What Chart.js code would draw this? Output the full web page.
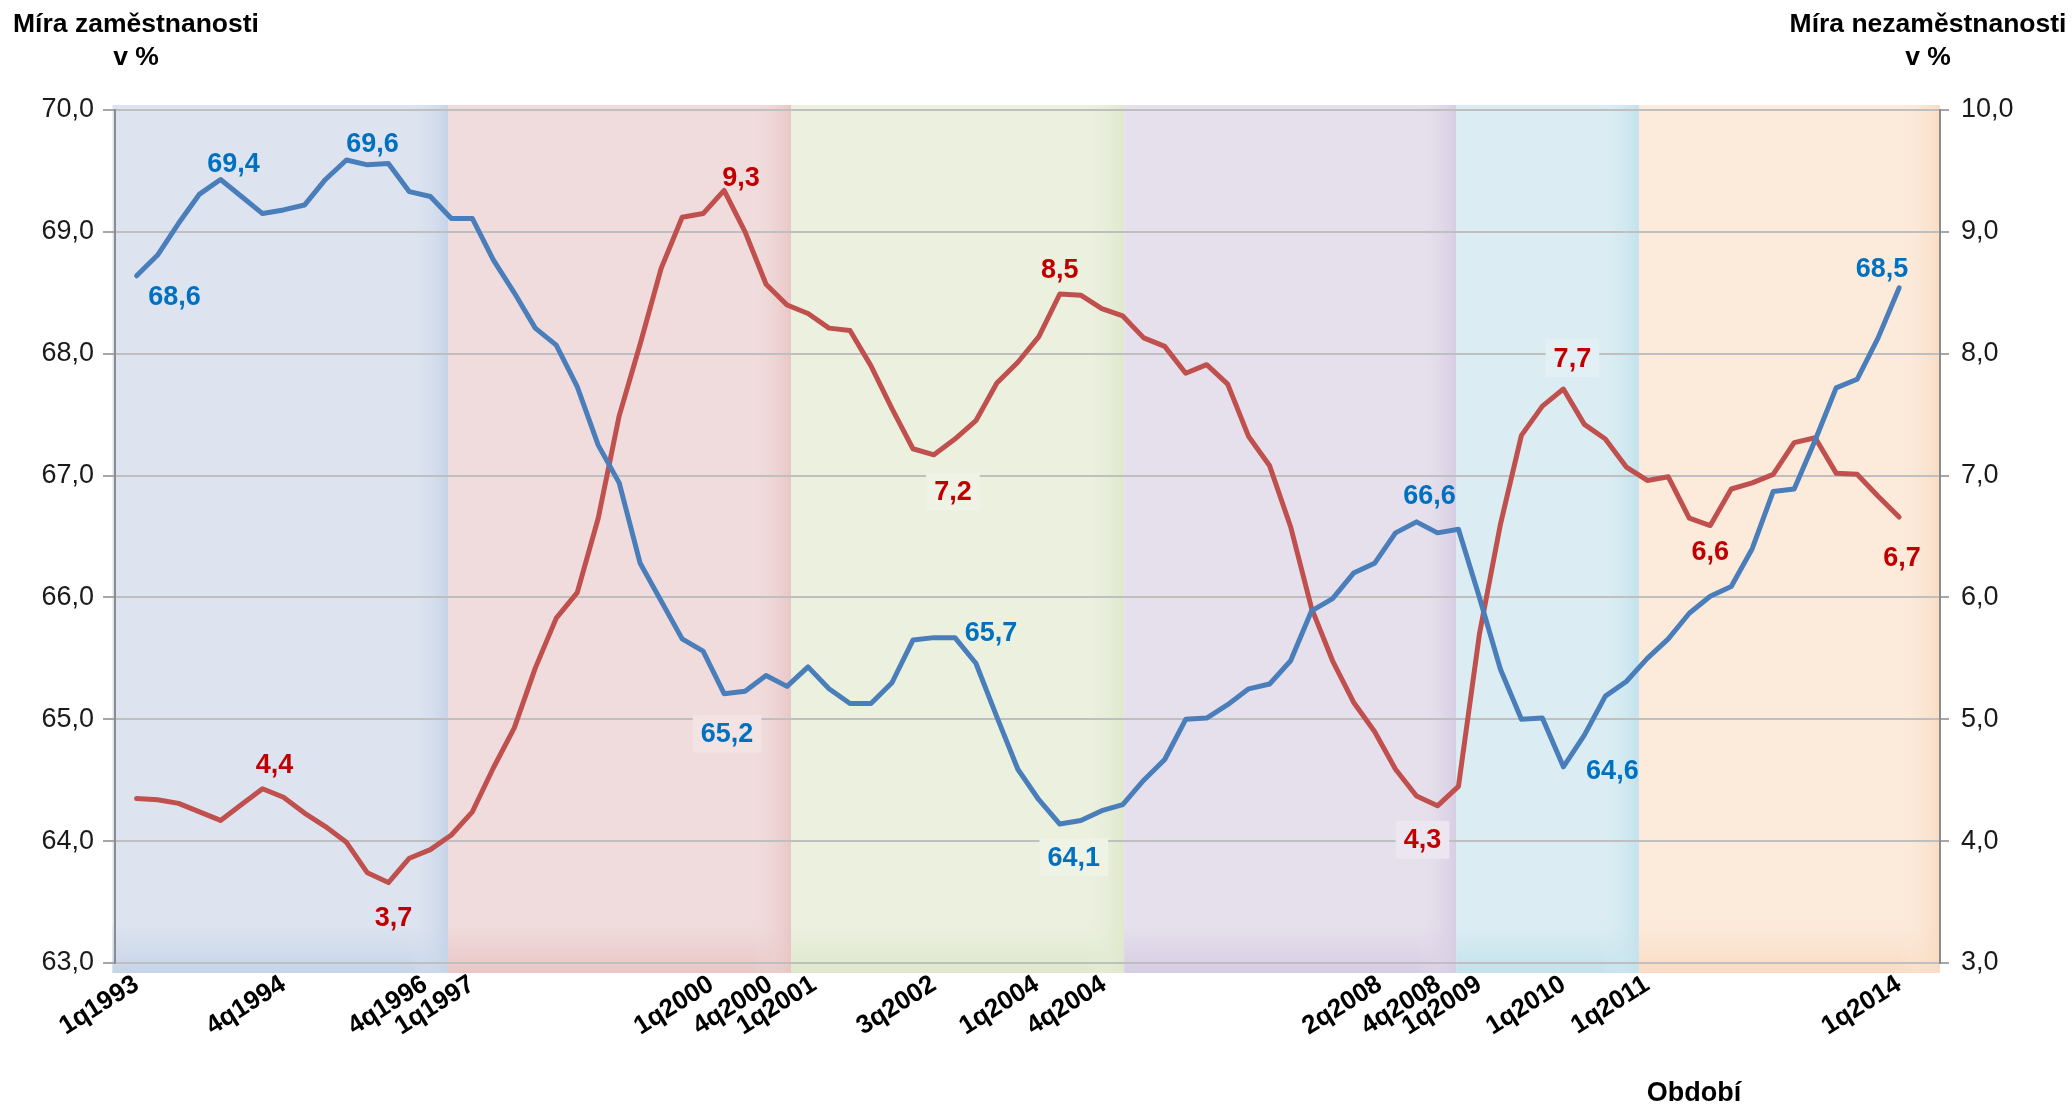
<!DOCTYPE html>
<html>
<head>
<meta charset="utf-8">
<script src="https://cdn.jsdelivr.net/npm/chart.js@4.4.1/dist/chart.umd.min.js"></script>
<style>
  html, body { margin: 0; padding: 0; background: #fff; }
  #wrap { position: relative; width: 2072px; height: 1109px; }
</style>
</head>
<body>
<div id="wrap"><canvas id="chart" width="2072" height="1109"></canvas></div>
<script>
// quarters 1q1993 .. 1q2014
const quarters = [];
for (let y = 1993; y <= 2014; y++) for (let q = 1; q <= 4; q++) if (quarters.length < 85) quarters.push(q + 'q' + y);

const shownTicks = ['1q1993', '4q1994', '4q1996', '1q1997', '1q2000', '4q2000', '1q2001', '3q2002',
  '1q2004', '4q2004', '2q2008', '4q2008', '1q2009', '1q2010', '1q2011', '1q2014'];

// Míra zaměstnanosti (left axis)
const employment = [
  68.64, 68.81, 69.07, 69.31, 69.43, 69.29, 69.15, 69.18, 69.22, 69.43,
  69.59, 69.55, 69.56, 69.33, 69.29, 69.11, 69.11, 68.77, 68.50, 68.21,
  68.07, 67.73, 67.25, 66.94, 66.28, 65.97, 65.66, 65.56, 65.21, 65.23,
  65.36, 65.27, 65.43, 65.25, 65.13, 65.13, 65.30, 65.65, 65.67, 65.67,
  65.46, 65.02, 64.59, 64.34, 64.14, 64.17, 64.25, 64.30, 64.50, 64.67,
  65.00, 65.01, 65.12, 65.25, 65.29, 65.48, 65.89, 65.99, 66.20, 66.28,
  66.53, 66.62, 66.53, 66.56, 66.00, 65.41, 65.00, 65.01, 64.61, 64.87,
  65.19, 65.31, 65.50, 65.66, 65.87, 66.01, 66.09, 66.40, 66.87, 66.89,
  67.29, 67.72, 67.79, 68.13, 68.54
];

// Míra nezaměstnanosti (right axis)
const unemployment = [
  4.35, 4.34, 4.31, 4.24, 4.17, 4.30, 4.43, 4.36, 4.23, 4.12,
  3.99, 3.74, 3.66, 3.86, 3.93, 4.05, 4.24, 4.60, 4.93, 5.42,
  5.83, 6.04, 6.65, 7.49, 8.08, 8.70, 9.12, 9.15, 9.34, 9.00,
  8.57, 8.40, 8.33, 8.21, 8.19, 7.90, 7.55, 7.22, 7.17, 7.30,
  7.45, 7.76, 7.93, 8.14, 8.49, 8.48, 8.37, 8.31, 8.13, 8.06,
  7.84, 7.91, 7.75, 7.32, 7.08, 6.58, 5.91, 5.48, 5.14, 4.90,
  4.59, 4.37, 4.29, 4.45, 5.70, 6.60, 7.33, 7.57, 7.71, 7.42,
  7.30, 7.07, 6.96, 6.99, 6.65, 6.59, 6.89, 6.94, 7.01, 7.27,
  7.31, 7.02, 7.01, 6.83, 6.66
];

// labelled points (quarter index)
const employmentMarks = [0, 4, 10, 28, 39, 44, 61, 68, 84];
const unemploymentMarks = [6, 12, 28, 38, 44, 62, 68, 75, 84];

// period bands, edges on the quarter axis (drawn by hand in the original)
const periodEdges = [-1.15, 14.84, 31.19, 47.07, 62.9, 71.6, 85.95];
const periodColors = [
  ['#dde4f0', '#c6d4e8'], ['#f0dcdc', '#e9c6c6'], ['#ebf0df', '#dfe8cc'],
  ['#e6e0ec', '#d7cde3'], ['#dbedf3', '#c3e2ec'], ['#fceadb', '#f9dcc3']
];

// tick labels in the original sit a little off their quarter (in quarters)
const tickShift = { '4q1996': -1.25, '1q2000': -0.6, '4q2000': -0.8, '1q2001': 0.3, '1q2004': -1.1, '4q2004': -0.9, '2q2008': -1.75, '4q2008': -0.95 };

// label offsets from the point, px, and whether the label has a filled box
const labelStyle = {
  employment: { 0: [38, 21], 4: [13, -16], 10: [26, -16], 28: [3, 40, 1], 39: [36, -5], 44: [14, 33, 1], 61: [13, -26], 68: [49, 4], 84: [-17, -19] },
  unemployment: { 6: [12, -24], 12: [5, 35], 28: [17, -13], 38: [19, 37, 1], 44: [0, -24], 62: [-15, 34, 1], 68: [9, -31, 1], 75: [0, 26], 84: [3, 41] }
};

const FONT = "'Liberation Sans', Arial, sans-serif";
const BLUE = '#4a7ebb', RED = '#c0504d', BLUE_TXT = '#0070c0', RED_TXT = '#c00000';
const fmt = (v) => v.toFixed(1).replace('.', ',');

const bandAt = (v) => {
  for (let i = 0; i < periodColors.length; i++) if (v >= periodEdges[i] && v < periodEdges[i + 1]) return periodColors[i];
  return periodColors[periodColors.length - 1];
};

const periodBands = {
  id: 'periodBands',
  beforeDraw(chart) {
    const { ctx, chartArea, scales: { x } } = chart;
    const top = chartArea.top - 5, bottom = chartArea.bottom + 10;
    ctx.save();
    periodColors.forEach(([base, edge], i) => {
      const x0 = x.getPixelForValue(periodEdges[i]), x1 = x.getPixelForValue(periodEdges[i + 1]);
      ctx.fillStyle = base;
      ctx.fillRect(x0, top, x1 - x0, bottom - top);
      let g = ctx.createLinearGradient(0, bottom - 48, 0, bottom);
      g.addColorStop(0, base); g.addColorStop(1, edge);
      ctx.fillStyle = g;
      ctx.fillRect(x0, bottom - 48, x1 - x0, 48);
      g = ctx.createLinearGradient(x1 - 40, 0, x1, 0);
      g.addColorStop(0, base + '00'); g.addColorStop(1, edge);
      ctx.fillStyle = g;
      ctx.fillRect(x1 - 40, top, 40, bottom - top);
    });
    ctx.restore();
  }
};

const pointLabels = {
  id: 'pointLabels',
  afterDatasetsDraw(chart) {
    const { ctx, scales: { x } } = chart;
    ctx.save();
    ctx.font = 'bold 27px ' + FONT;
    ctx.textAlign = 'center';
    ctx.textBaseline = 'middle';
    const draw = (dsIndex, marks, values, style, color) => {
      const meta = chart.getDatasetMeta(dsIndex);
      marks.forEach((idx) => {
        const pt = meta.data[idx];
        const [dx, dy, box] = style[idx];
        const tx = pt.x + dx, ty = pt.y + dy, txt = fmt(values[idx]);
        if (box) {
          const w = ctx.measureText(txt).width + 16;
          ctx.fillStyle = bandAt(x.getValueForPixel(tx))[0];
          ctx.fillRect(tx - w / 2, ty - 19, w, 38);
          ctx.fillStyle = 'rgba(255,255,255,0.2)';
          ctx.fillRect(tx - w / 2, ty - 19, w, 38);
        }
        ctx.fillStyle = color;
        ctx.fillText(txt, tx, ty + 1);
      });
    };
    draw(0, employmentMarks, employment, labelStyle.employment, BLUE_TXT);
    draw(1, unemploymentMarks, unemployment, labelStyle.unemployment, RED_TXT);
    ctx.restore();
  }
};

const titles = {
  id: 'titles',
  afterDraw(chart) {
    const { ctx } = chart;
    ctx.save();
    ctx.font = 'bold 26.5px ' + FONT;
    ctx.fillStyle = '#000';
    ctx.textAlign = 'center';
    ctx.textBaseline = 'middle';
    ctx.fillText('Míra zaměstnanosti', 136, 25);
    ctx.fillText('v %', 136, 58);
    ctx.fillText('Míra nezaměstnanosti', 1928, 25);
    ctx.fillText('v %', 1928, 58);
    ctx.font = 'bold 27px ' + FONT;
    ctx.fillText('Období', 1694, 1094);
    ctx.restore();
  }
};

const tickFont = { family: FONT, size: 27 };

new Chart(document.getElementById('chart'), {
  type: 'line',
  data: {
    datasets: [
      { label: 'Míra zaměstnanosti', data: employment.map((v, i) => ({ x: i, y: v })), yAxisID: 'y', borderColor: BLUE, borderWidth: 5 },
      { label: 'Míra nezaměstnanosti', data: unemployment.map((v, i) => ({ x: i, y: v })), yAxisID: 'y2', borderColor: RED, borderWidth: 5 }
    ]
  },
  options: {
    responsive: false,
    animation: false,
    devicePixelRatio: 1,
    layout: { padding: { top: 110, left: 0, right: 0, bottom: 0 } },
    plugins: { legend: { display: false }, tooltip: { enabled: false } },
    elements: {
      point: { radius: 0 },
      line: { tension: 0, borderJoinStyle: 'round', borderCapStyle: 'round', fill: false }
    },
    scales: {
      x: {
        type: 'linear', min: -1.03, max: 85.95,
        grid: { display: false, drawTicks: false }, border: { display: false },
        afterBuildTicks: (s) => { s.ticks = shownTicks.map((l) => ({ value: quarters.indexOf(l) + (tickShift[l] || 0) })); },
        ticks: {
          autoSkip: false, minRotation: 32, maxRotation: 32, padding: 6, color: '#000',
          font: { family: FONT, size: 26, weight: 'bold' },
          callback: (v, i) => shownTicks[i]
        },
        afterFit: (s) => { s.height = 146; }
      },
      y: {
        position: 'left', min: 63, max: 70,
        ticks: { stepSize: 1, padding: 9, color: '#1a1a1a', font: tickFont, callback: (v) => fmt(v) },
        grid: { color: '#bfbfbf', lineWidth: 2, tickLength: 12, tickColor: '#a6a6a6' },
        border: { color: '#8c8c8c', width: 2 },
        afterFit: (s) => { s.width = 115; }
      },
      y2: {
        position: 'right', min: 3, max: 10,
        ticks: { stepSize: 1, padding: 12, color: '#1a1a1a', font: tickFont, callback: (v) => fmt(v) },
        grid: { drawOnChartArea: false, lineWidth: 2, tickLength: 9, tickColor: '#a6a6a6' },
        border: { color: '#8c8c8c', width: 2 },
        afterFit: (s) => { s.width = 132; }
      }
    }
  },
  plugins: [periodBands, pointLabels, titles]
});
</script>
</body>
</html>
